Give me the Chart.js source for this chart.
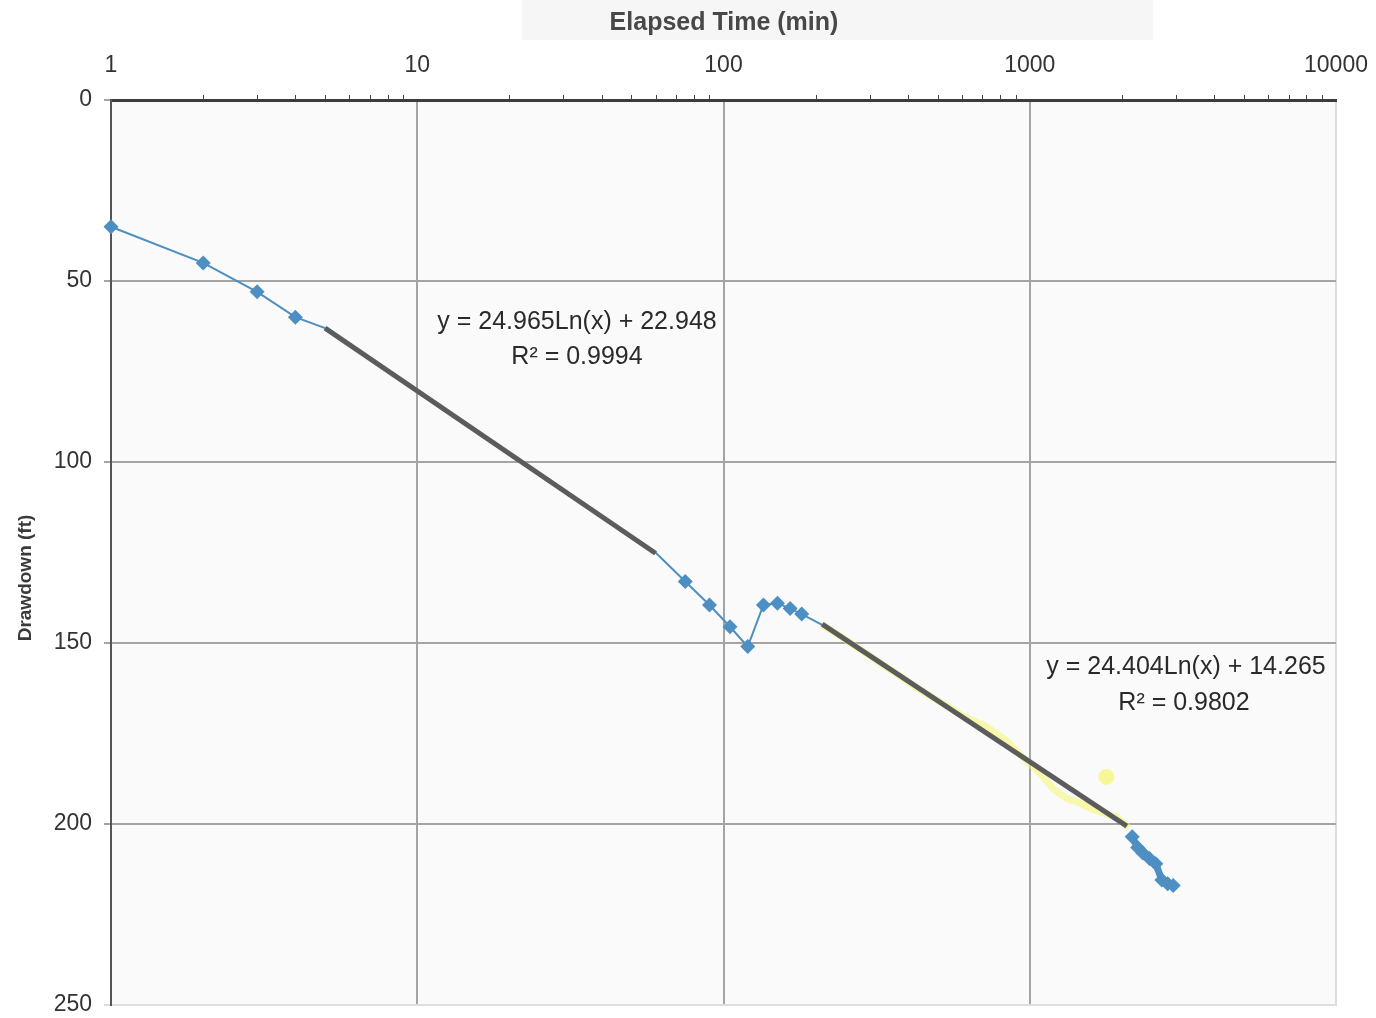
<!DOCTYPE html>
<html>
<head>
<meta charset="utf-8">
<script src="https://cdn.jsdelivr.net/npm/chart.js@4.4.1/dist/chart.umd.min.js"></script>
<style>
  html, body { margin: 0; padding: 0; background: #ffffff; }
  #wrap { width: 1376px; height: 1018px; position: relative; }
</style>
</head>
<body>
<div id="wrap"><canvas id="c" width="1376" height="1018"></canvas></div>
<script>
// ---- data ----
const xTickValues = [1, 10, 100, 1000, 10000];
const yTickValues = [0, 50, 100, 150, 200, 250];

// early measured drawdown (blue), including the part under the first trendline
const timeEarly = [1, 2, 3, 4, 5, 10, 15, 20, 25, 30, 35, 40, 45, 50, 55, 60, 75, 90, 105, 120, 135, 150, 165, 180, 210];
const drawEarly = [35, 45, 53, 60, 63, 80, 90.5, 97.5, 103, 108, 111.5, 115, 118, 120.5, 123, 125, 133, 139.5, 145.5, 151, 139.5, 139, 140.5, 142, 145];
const markedEarly = [1, 2, 3, 4, 75, 90, 105, 120, 135, 150, 165, 180];

// middle measured drawdown (yellow)
const timeMid = [210, 240, 270, 300, 330, 360, 420, 480, 540, 600, 720, 840, 960, 1080, 1200, 1320, 1440, 1560, 1680, 1920, 2040, 2100];
const drawMid = [145, 148, 151, 153.5, 156, 158, 162, 165, 167.5, 170, 173, 177, 182, 186, 190.5, 193, 194, 195.5, 196.5, 198, 200, 201];
const timeMidOutlier = [1780];
const drawMidOutlier = [187];

// late measured drawdown (blue)
const timeLate = [2160, 2250, 2340, 2460, 2580, 2700, 2820, 2940];
const drawLate = [203.5, 206.5, 208, 209.5, 211, 215.5, 216.5, 217];

// trendline end points
const timeTrend1 = [5, 60];
const drawTrend1 = [63, 125.2];
const timeTrend2 = [210, 2075];
const drawTrend2 = [144.8, 200.6];

const eqTexts = ['y = 24.965Ln(x) + 22.948', 'R\u00B2 = 0.9994', 'y = 24.404Ln(x) + 14.265', 'R\u00B2 = 0.9802'];
const xTitle = 'Elapsed Time (min)';
const yTitle = 'Drawdown (ft)';

const toPts = (xs, ys) => xs.map((x, i) => ({ x: x, y: ys[i] }));

const BLUE = '#4d8fc2';
const FONT = '"Liberation Sans", Arial, sans-serif';

const decor = {
  id: 'decor',
  beforeDraw(chart) {
    const ctx = chart.ctx;
    const a = chart.chartArea;
    ctx.save();
    ctx.fillStyle = '#ffffff';
    ctx.fillRect(0, 0, chart.width, chart.height);
    ctx.fillStyle = '#f6f6f6';
    ctx.fillRect(522, 0, 631, 40);
    ctx.fillStyle = '#fafafa';
    ctx.fillRect(a.left, a.top, a.right - a.left, a.bottom - a.top);
    ctx.strokeStyle = '#dddddd';
    ctx.lineWidth = 2;
    ctx.beginPath();
    ctx.moveTo(a.right, a.top);
    ctx.lineTo(a.right, a.bottom);
    ctx.lineTo(a.left, a.bottom);
    ctx.stroke();
    ctx.restore();
  },
  afterDraw(chart) {
    const ctx = chart.ctx;
    const xs = chart.scales.x;
    const a = chart.chartArea;
    ctx.save();
    // minor ticks on log axis
    ctx.strokeStyle = '#444';
    ctx.lineWidth = 1;
    for (let d = 1; d < 10000; d *= 10) {
      for (let k = 2; k <= 9; k++) {
        const px = Math.round(xs.getPixelForValue(k * d)) + 0.5;
        ctx.beginPath();
        ctx.moveTo(px, a.top);
        ctx.lineTo(px, a.top - 5);
        ctx.stroke();
      }
    }
    // titles
    ctx.fillStyle = '#484848';
    ctx.font = 'bold 25px ' + FONT;
    ctx.textAlign = 'center';
    ctx.textBaseline = 'middle';
    ctx.fillText(xTitle, 724, 23);
    ctx.save();
    ctx.translate(26, 578);
    ctx.rotate(-Math.PI / 2);
    ctx.fillStyle = '#3a3a3a';
    ctx.font = 'bold 19px ' + FONT;
    ctx.fillText(yTitle, 0, 0);
    ctx.restore();
    // trendline equations
    ctx.fillStyle = '#2a2a2a';
    ctx.font = '25px ' + FONT;
    ctx.fillText(eqTexts[0], 577, 322);
    ctx.fillText(eqTexts[1], 577, 357);
    ctx.fillText(eqTexts[2], 1186, 667);
    ctx.fillText(eqTexts[3], 1184, 703);
    ctx.restore();
  }
};

new Chart(document.getElementById('c'), {
  type: 'scatter',
  data: {
    datasets: [
      {
        label: 'Trend 1', data: toPts(timeTrend1, drawTrend1), showLine: true,
        borderColor: '#5c5c5c', borderWidth: 5, pointRadius: 0, order: 0
      },
      {
        label: 'Trend 2', data: toPts(timeTrend2, drawTrend2), showLine: true,
        borderColor: '#5c5c5c', borderWidth: 5, pointRadius: 0, order: 0
      },
      {
        label: 'Early', data: toPts(timeEarly, drawEarly), showLine: true, clip: false,
        borderColor: BLUE, borderWidth: 2, backgroundColor: BLUE,
        pointStyle: 'rectRot',
        pointRadius: timeEarly.map(t => markedEarly.includes(t) ? 7.5 : 0),
        pointBorderWidth: 0, order: 2
      },
      {
        label: 'Middle', data: toPts(timeMid, drawMid), showLine: true,
        borderColor: 'rgba(245,245,110,0.55)', borderWidth: 7,
        backgroundColor: 'rgba(245,245,110,0.55)', pointRadius: 0, order: 3
      },
      {
        label: 'Middle outlier', data: toPts(timeMidOutlier, drawMidOutlier), showLine: false,
        backgroundColor: 'rgba(245,245,110,0.7)', pointRadius: 8, pointBorderWidth: 0, order: 3
      },
      {
        label: 'Late', data: toPts(timeLate, drawLate), showLine: true,
        borderColor: BLUE, borderWidth: 7, backgroundColor: BLUE,
        pointStyle: 'rectRot', pointRadius: 7.5, pointBorderWidth: 0, order: 2
      }
    ]
  },
  options: {
    responsive: false,
    animation: false,
    layout: { padding: { left: 0, right: 40, top: 0, bottom: 13 } },
    plugins: { legend: { display: false }, tooltip: { enabled: false } },
    scales: {
      x: {
        type: 'logarithmic', position: 'top', min: 1, max: 10000,
        afterBuildTicks(scale) { scale.ticks = xTickValues.map(v => ({ value: v })); },
        afterFit(scale) { scale.height = 100; scale.paddingLeft = 0; scale.paddingRight = 0; },
        ticks: {
          callback: (v) => String(v), color: '#333', padding: 21, maxRotation: 0,
          font: { family: FONT, size: 23 }
        },
        grid: {
          drawTicks: false, lineWidth: 2,
          color: (c) => (c.tick && c.tick.value === 10000) ? 'rgba(0,0,0,0)' : '#a4a4a4'
        },
        border: { display: true, color: '#3c3c3c', width: 3 }
      },
      y: {
        reverse: true, min: 0, max: 250,
        afterBuildTicks(scale) { scale.ticks = yTickValues.map(v => ({ value: v })); },
        afterFit(scale) { scale.width = 111; scale.paddingTop = 0; scale.paddingBottom = 0; },
        ticks: { color: '#333', padding: 12, font: { family: FONT, size: 23 } },
        grid: {
          drawTicks: true, tickLength: 7, lineWidth: 2,
          color: (c) => (c.tick && c.tick.value === 250) ? '#dddddd' : '#a4a4a4'
        },
        border: { display: true, color: '#555', width: 2 }
      }
    }
  },
  plugins: [decor]
});
</script>
</body>
</html>
